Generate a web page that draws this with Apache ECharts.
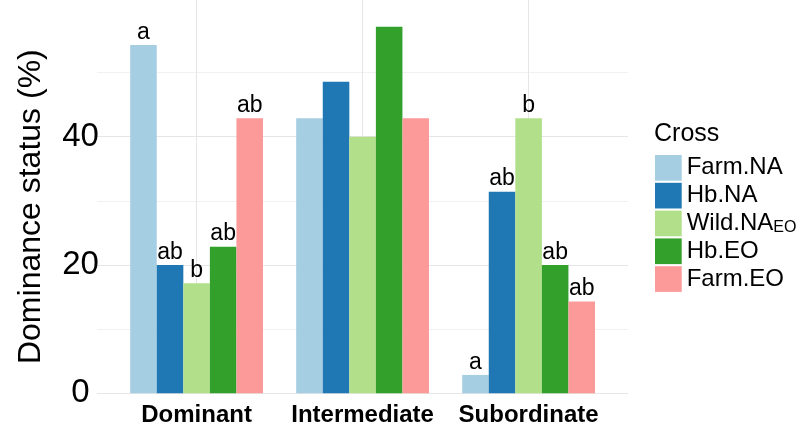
<!DOCTYPE html>
<html>
<head>
<meta charset="utf-8">
<script src="https://cdn.jsdelivr.net/npm/echarts@6/dist/echarts.min.js"></script>
<style>
  html, body { margin: 0; padding: 0; background: #ffffff; }
  #chart { width: 802px; height: 430px; }
</style>
</head>
<body>
<div id="chart"></div>
<script>
// Dominance status categories and crosses
const categories = ['Dominant', 'Intermediate', 'Subordinate'];
const crosses = ['Farm.NA', 'Hb.NA', 'Wild.NA_EO', 'Hb.EO', 'Farm.EO'];

// Percentage of individuals in each status, per cross
const farmNA = [54.29, 42.86, 2.86];
const hbNA   = [20.00, 48.57, 31.43];
const wildNA = [17.14, 40.00, 42.86];
const hbEO   = [22.86, 57.14, 20.00];
const farmEO = [42.86, 42.86, 14.29];

// Significance letters drawn above the bars
const lettersFarmNA = ['a', '', 'a'];
const lettersHbNA   = ['ab', '', 'ab'];
const lettersWildNA = ['b', '', 'b'];
const lettersHbEO   = ['ab', '', 'ab'];
const lettersFarmEO = ['ab', '', 'ab'];

// Labelled y ticks
const yTickLabels = [0, 20, 40];

const values = [farmNA, hbNA, wildNA, hbEO, farmEO];
const letters = [lettersFarmNA, lettersHbNA, lettersWildNA, lettersHbEO, lettersFarmEO];
const colors = ['#A6CEE3', '#1F78B4', '#B2DF8A', '#33A02C', '#FB9A99'];

const FONT = '"Liberation Sans", Arial, Helvetica, sans-serif';
const MAJOR = '#E6E6E6';
const MINOR = '#F1F1F1';

const yMin = -1.82;
const yMax = 60;
const panelTop = 8.3;
const panelHeight = 396.7;

const chart = echarts.init(document.getElementById('chart'), null, { renderer: 'canvas' });

chart.setOption({
  animation: false,
  backgroundColor: '#ffffff',
  title: {
    text: 'Cross',
    left: 654,
    top: 121.7,
    padding: 0,
    textStyle: { fontSize: 25, fontWeight: 'normal', color: '#000', fontFamily: FONT }
  },
  legend: {
    orient: 'vertical',
    left: 655,
    top: 155,
    padding: 0,
    icon: 'rect',
    itemWidth: 26.7,
    itemHeight: 25.7,
    itemGap: 2.1,
    selectedMode: false,
    data: crosses,
    formatter: function (name) {
      const i = name.indexOf('_');
      if (i < 0) return name;
      return '{n|' + name.slice(0, i) + '}{s|' + name.slice(i + 1) + '}';
    },
    textStyle: {
      fontSize: 24, color: '#000', fontFamily: FONT, lineHeight: 25,
      rich: {
        n: { fontSize: 24, color: '#000', fontFamily: FONT, lineHeight: 25 },
        s: { fontSize: 16, color: '#000', fontFamily: FONT, lineHeight: 2, verticalAlign: 'bottom' }
      }
    }
  },
  grid: [
    // full panel: horizontal grid lines
    { left: 97, top: panelTop, width: 531, height: panelHeight },
    // bars: bands centred on the discrete positions
    { left: 113.6, top: panelTop, width: 498, height: panelHeight }
  ],
  xAxis: [
    { gridIndex: 0, type: 'category', data: categories, show: false },
    {
      gridIndex: 1,
      type: 'category',
      data: categories,
      axisLine: { show: false },
      axisTick: {
        show: true, inside: true, alignWithLabel: true, length: panelHeight,
        lineStyle: { color: MAJOR, width: 1 }
      },
      axisLabel: {
        interval: 0, fontSize: 24, fontWeight: 'bold', color: '#000',
        fontFamily: FONT, margin: -2
      },
      splitLine: { show: false }
    }
  ],
  yAxis: [
    {
      gridIndex: 0,
      type: 'value',
      min: yMin,
      max: yMax,
      axisLine: { show: false },
      axisTick: { show: false },
      axisLabel: {
        formatter: function (v) { return yTickLabels.indexOf(v) >= 0 ? String(v) : ''; },
        fontSize: 33, color: '#000', fontFamily: FONT, align: 'center', margin: 16.5
      },
      splitLine: {
        show: true,
        lineStyle: {
          color: ['rgba(0,0,0,0)', MAJOR, MINOR, MAJOR, MINOR, MAJOR, MINOR, 'rgba(0,0,0,0)'],
          width: 1
        }
      },
      name: 'Dominance status (%)',
      nameLocation: 'middle',
      nameGap: 50,
      nameRotate: 90,
      nameTextStyle: { fontSize: 32, color: '#000', fontFamily: FONT }
    },
    { gridIndex: 1, type: 'value', min: yMin, max: yMax, show: false }
  ],
  series: crosses.map(function (name, i) {
    return {
      name: name,
      type: 'bar',
      xAxisIndex: 1,
      yAxisIndex: 1,
      data: values[i],
      barGap: '0%',
      barCategoryGap: '20%',
      itemStyle: { color: colors[i] },
      emphasis: { disabled: true },
      label: {
        show: true,
        position: 'top',
        distance: 1,
        formatter: function (p) { return letters[i][p.dataIndex]; },
        fontSize: 23,
        color: '#000',
        fontFamily: FONT
      }
    };
  })
});
</script>
</body>
</html>
